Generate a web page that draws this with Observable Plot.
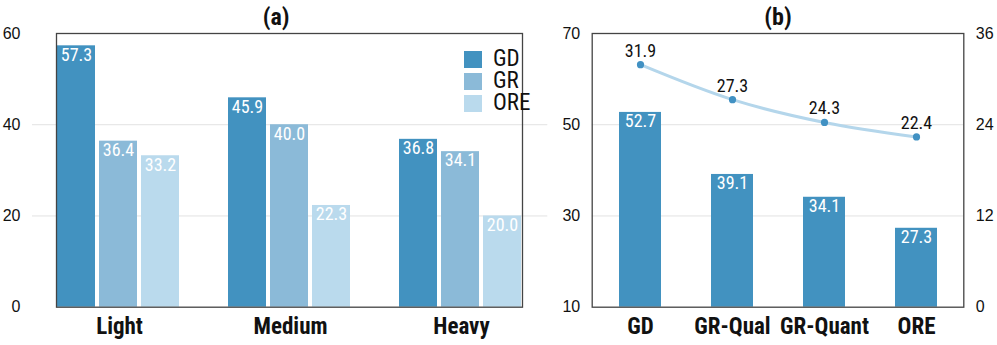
<!DOCTYPE html>
<html>
<head>
<meta charset="utf-8">
<script src="https://cdn.jsdelivr.net/npm/d3@7"></script>
<script src="https://cdn.jsdelivr.net/npm/@observablehq/plot@0.6"></script>
<style>
  html, body { margin: 0; padding: 0; background: white; }
  #wrap { position: relative; width: 997px; height: 345px; overflow: hidden; }
  #wrap > svg, #wrap > figure { position: absolute; top: 0; margin: 0; }
  .legend { position: absolute; font-family: "Roboto Condensed", "Roboto", sans-serif; font-size: 23px; color: #111; }
  .legend .row { display: flex; align-items: center; height: 22px; }
  .legend .sw { width: 18px; height: 17px; margin-right: 11px; flex: none; }
  .legend .lab { display: block; height: 18px; line-height: 18px; overflow: visible; }
</style>
</head>
<body>
<div id="wrap"></div>
<script>
// ---- Data: panel (a)
const catsA = ["Light", "Medium", "Heavy"];
const seriesA = ["GD", "GR", "ORE"];
const gdA = [57.3, 45.9, 36.8];
const grA = [36.4, 40.0, 34.1];
const oreA = [33.2, 22.3, 20.0];
const yTicksA = [0, 20, 40, 60];

// ---- Data: panel (b)
const catsB = ["GD", "GR-Qual", "GR-Quant", "ORE"];
const barB = [52.7, 39.1, 34.1, 27.3];
const lineB = [31.9, 27.3, 24.3, 22.4];
const yTicksB = [10, 30, 50, 70];
const y2TicksB = [0, 12, 24, 36];

const colorsA = ["#4292c0", "#8bbad8", "#badaed"];
const lineColor = "#b4d6eb";
const dotColor = "#4191c3";

const seriesVals = [gdA, grA, oreA];
const dataA = catsA.flatMap((c, i) => seriesA.map((s, j) => ({cat: c, series: s, value: seriesVals[j][i]})));
const dataB = catsB.map((c, i) => ({cat: c, bar: barB[i], line: lineB[i]}));

const narrow = "'Roboto Condensed', Roboto, sans-serif";
const baseStyle = {background: "transparent", fontFamily: "'Liberation Sans', sans-serif", fontSize: "16px", color: "#111", overflow: "visible"};
const H = 345, MT = 33, MB = 38.3;
const wrap = document.getElementById("wrap");
const dimsA = {width: 560, height: H, marginLeft: 32, marginRight: 12.7, marginTop: MT, marginBottom: MB};
const fxA = {domain: catsA, paddingInner: 0.272, paddingOuter: 0.136};
const yA = {domain: [yTicksA[0], yTicksA[yTicksA.length - 1]], label: null};
const catFont = {fontWeight: "bold", fontSize: 23, fontFamily: narrow};
const titleFont = {fontWeight: "bold", fontSize: 24, fontFamily: narrow};
const valFont = {fontFamily: narrow, fontSize: 18};

// ---- Panel (a) background: grid, axes, title
const plotA0 = Plot.plot({
  ...dimsA,
  style: baseStyle,
  x: {...fxA, label: null},
  y: yA,
  marks: [
    Plot.gridY(yTicksA.slice(1, -1), {stroke: "#e2e2e2", strokeOpacity: 1}),
    Plot.axisY(yTicksA, {tickSize: 0, tickPadding: 12, label: null}),
    Plot.axisX({tickSize: 0, tickPadding: 10, label: null, ...catFont}),
    Plot.text(["(a)"], {frameAnchor: "top", lineAnchor: "middle", dy: -16, dx: -14, ...titleFont})
  ]
});
plotA0.style.left = "0px";
wrap.appendChild(plotA0);

// ---- Panel (a) grouped bars (faceted)
const plotA = Plot.plot({
  ...dimsA,
  style: baseStyle,
  fx: {...fxA, axis: null},
  x: {domain: seriesA, paddingInner: 0.093, paddingOuter: 0, axis: null},
  y: {...yA, axis: null},
  color: {domain: seriesA, range: colorsA},
  marks: [
    Plot.barY(dataA, {fx: "cat", x: "series", y: "value", fill: "series"}),
    Plot.text(dataA, {fx: "cat", x: "series", y: "value", text: d => d.value.toFixed(1), fill: "white",
      lineAnchor: "top", dy: 2, ...valFont}),
    Plot.frame({facet: "super", stroke: "#444", strokeWidth: 1.3})
  ]
});
plotA.style.left = "0px";
wrap.appendChild(plotA);

// ---- Panel (b) bars
const dimsB = {width: 437, height: H, marginLeft: 31.7, marginRight: 33.7, marginTop: MT, marginBottom: MB};
const plotB = Plot.plot({
  ...dimsB,
  style: baseStyle,
  x: {domain: catsB, paddingInner: 0.548, paddingOuter: 0.274, label: null},
  y: {domain: [yTicksB[0], yTicksB[yTicksB.length - 1]], label: null},
  marks: [
    Plot.gridY(yTicksB.slice(1, -1), {stroke: "#e2e2e2", strokeOpacity: 1}),
    Plot.barY(dataB, {x: "cat", y1: yTicksB[0], y2: "bar", fill: colorsA[0]}),
    Plot.text(dataB, {x: "cat", y: "bar", text: d => d.bar.toFixed(1), fill: "white",
      lineAnchor: "top", dy: 2, ...valFont}),
    Plot.axisY(yTicksB, {tickSize: 0, tickPadding: 12, label: null}),
    Plot.axisX({tickSize: 0, tickPadding: 10, label: null, ...catFont}),
    Plot.frame({stroke: "#444", strokeWidth: 1.3}),
    Plot.text(["(b)"], {frameAnchor: "top", lineAnchor: "middle", dy: -16, ...titleFont})
  ]
});
plotB.style.left = "560px";
wrap.appendChild(plotB);

// ---- Panel (b) line on secondary axis
const plotB2 = Plot.plot({
  ...dimsB,
  style: baseStyle,
  x: {domain: catsB, paddingInner: 0.548, paddingOuter: 0.274, axis: null},
  y: {domain: [y2TicksB[0], y2TicksB[y2TicksB.length - 1]], label: null},
  marks: [
    Plot.line(dataB, {x: "cat", y: "line", stroke: lineColor, strokeWidth: 3, curve: "catmull-rom"}),
    Plot.dot(dataB, {x: "cat", y: "line", r: 3.6, fill: dotColor}),
    Plot.text(dataB, {x: "cat", y: "line", text: d => d.line.toFixed(1), fill: "#111",
      lineAnchor: "bottom", dy: -8, ...valFont}),
    Plot.axisY(y2TicksB, {anchor: "right", tickSize: 0, tickPadding: 12, label: null})
  ]
});
plotB2.style.left = "560px";
wrap.appendChild(plotB2);

// ---- Legend for panel (a)
const leg = document.createElement("div");
leg.className = "legend";
leg.style.left = "464px";
leg.style.top = "48px";
seriesA.forEach((s, i) => {
  const row = document.createElement("div");
  row.className = "row";
  const sw = document.createElement("div");
  sw.className = "sw";
  sw.style.background = colorsA[i];
  const t = document.createElement("span");
  t.className = "lab";
  t.textContent = s;
  row.appendChild(sw); row.appendChild(t);
  leg.appendChild(row);
});
wrap.appendChild(leg);
</script>
</body>
</html>
